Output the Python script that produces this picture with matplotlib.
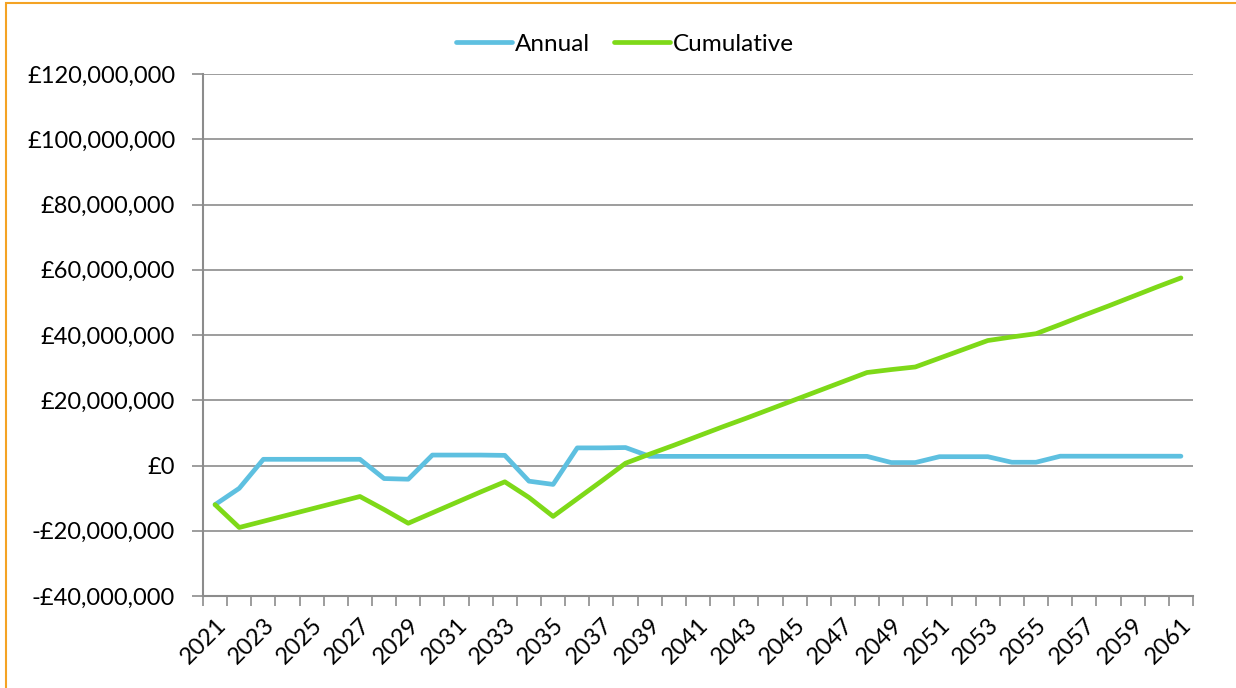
import numpy as np
import matplotlib.pyplot as plt
from matplotlib.patches import Rectangle
from matplotlib.ticker import FuncFormatter, MultipleLocator

plt.rcParams['font.family'] = ['Lato', 'DejaVu Sans']

years = list(range(2021, 2062))

# annual value, £ millions
annual = [-12.0, -7.0, 1.9, 1.9, 1.9, 1.9, 1.9, -4.0, -4.2, 3.2,
          3.2, 3.2, 3.1, -4.8, -5.8, 5.4, 5.4, 5.5, 2.8, 2.8,
          2.8, 2.8, 2.8, 2.8, 2.8, 2.8, 2.8, 2.8, 0.9, 0.9,
          2.7, 2.7, 2.7, 1.0, 1.0, 2.85, 2.85, 2.85, 2.85, 2.85,
          2.85]

# cumulative value, £ millions
cumulative = [-12.0, -19.0, -17.1, -15.2, -13.3, -11.4, -9.5, -13.5, -17.7, -14.5,
              -11.3, -8.1, -5.0, -9.8, -15.6, -10.2, -4.8, 0.7, 3.5, 6.2,
              9.0, 11.8, 14.5, 17.3, 20.1, 22.9, 25.7, 28.5, 29.4, 30.2,
              32.9, 35.6, 38.3, 39.4, 40.4, 43.2, 46.1, 48.9, 51.8, 54.7,
              57.5]

fig = plt.figure(figsize=(12.36, 6.88), dpi=100)
ax = fig.add_axes([203 / 1236, 92 / 688, 990 / 1236, 522 / 688])

x = np.arange(len(years))
ax.plot(x, np.array(annual) * 1e6, color="#5EC0E0", lw=3.4,
        solid_capstyle="round", label="Annual", zorder=3)
ax.plot(x, np.array(cumulative) * 1e6, color="#7ED918", lw=3.4,
        solid_capstyle="round", label="Cumulative", zorder=3)

ax.set_xlim(-0.5, len(years) - 0.5)
ax.set_ylim(-40e6, 120e6)
ax.yaxis.set_major_locator(MultipleLocator(20e6))


def money(v, pos):
    if v < 0:
        return "-£{:,.0f}".format(-v)
    return "£{:,.0f}".format(v)


ax.yaxis.set_major_formatter(FuncFormatter(money))
ax.grid(axis="y", color="#8c8c8c", lw=1.2)
ax.set_axisbelow(True)

ax.set_xticks(np.arange(-0.5, len(years), 1), minor=True)
ax.set_xticks(x[::2])
ax.set_xticklabels([str(y) for y in years[::2]], rotation=45,
                   ha="right", va="top", rotation_mode="anchor")
ax.tick_params(axis="x", which="major", length=0, pad=13, labelsize=17)
ax.tick_params(axis="x", which="minor", length=7, color="#8c8c8c", width=1.2)
ax.tick_params(axis="y", length=8, color="#8c8c8c", width=1.2, labelsize=17, pad=12)

for s in ["top", "right"]:
    ax.spines[s].set_visible(False)
for s in ["left", "bottom"]:
    ax.spines[s].set_color("#8c8c8c")
    ax.spines[s].set_linewidth(1.5)

fig.legend(loc="center", bbox_to_anchor=(625 / 1236, 1 - 44 / 688), ncol=2,
           frameon=False, fontsize=17.5, handlelength=2.3, handletextpad=0.1,
           columnspacing=1.0)

# orange frame around the chart
fig.patches.append(Rectangle((6 / 1236, -0.1), 1.2, 1 - 3.5 / 688 + 0.1,
                             transform=fig.transFigure, fill=False,
                             edgecolor="#F4A324", lw=1.5))

fig.savefig("out.png", dpi=100, facecolor="white")
